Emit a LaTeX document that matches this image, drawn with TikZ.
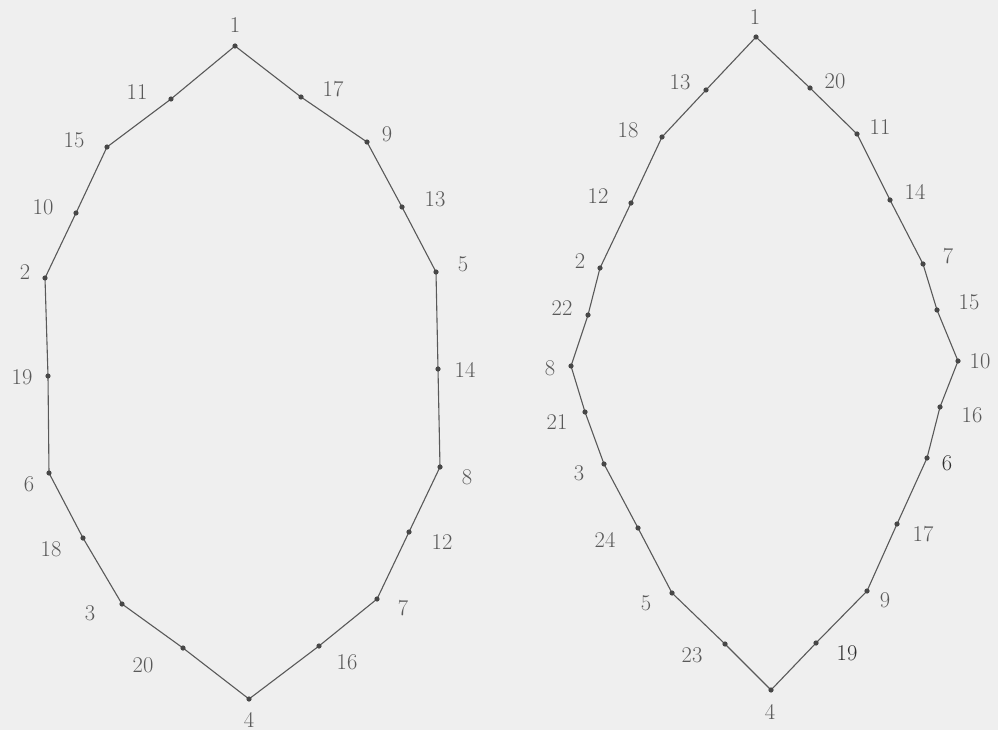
\documentclass[tikz,border=0pt]{standalone}
\begin{document}
\begin{tikzpicture}[x=1pt,y=-1pt,
  lab/.style={text=black!65, font=\fontsize{22.5}{26}\selectfont, inner sep=0pt},
  labdark/.style={lab, text=black!82},
  edge/.style={draw=black!65, line width=1.1pt, line join=round},
  dotc/.style={fill=black!72}]
\definecolor{bgc}{HTML}{EFEFEF}
\fill[bgc] (0,0) rectangle (998,730);
\useasboundingbox (0,0) rectangle (998,730);
% left figure
\foreach \n/\x/\y/\lx/\ly in {1/235/46/235/25, 11/171/99/137/92, 15/107/147/74/140, 10/76/213/43/207,
  2/45/278/25/272, 19/48/376/22/377, 6/49/473/29/484, 18/83/538/51/549, 3/122/604/90/613,
  20/183/648/143/665, 4/249/699/249/720, 16/319/646/347/662, 7/377/599/403/608,
  12/409/532/442/542, 8/440/467/467/477, 14/438/369/465/370, 5/436/272/463/264,
  13/402/207/435/199, 9/367/142/387/134, 17/301/97/333/89}
{\coordinate (A\n) at (\x,\y); \node[lab] (AL\n) at (\lx,\ly) {\n};}
\draw[edge] (A1) -- (A11) -- (A15) -- (A10) -- (A2) -- (A19) -- (A6) -- (A18) -- (A3) -- (A20)
  -- (A4) -- (A16) -- (A7) -- (A12) -- (A8) -- (A14) -- (A5) -- (A13) -- (A9) -- (A17) -- cycle;
\foreach \n in {1,...,20} \fill[dotc] (A\n) circle (2.6);
% right figure
\foreach \n/\x/\y/\lx/\ly in {1/756/37/755/17, 13/706/90/680/82, 18/662/137/628/130, 12/631/203/598/196,
  2/600/268/580/261, 22/588/315/562/308, 8/571/366/550/368, 21/585/412/557/422, 3/604/464/579/473,
  24/638/528/605/540, 5/672/593/646/603, 23/725/644/692/655, 4/771/690/770/712,
  9/867/591/885/600, 17/897/524/923/534,
  16/940/407/972/415, 10/958/361/980/361, 15/937/310/969/302, 7/923/264/948/256,
  14/890/200/915/192, 11/857/134/880/127, 20/810/88/835/81}
{\coordinate (B\n) at (\x,\y); \node[lab] (BL\n) at (\lx,\ly) {\n};}
\coordinate (B19) at (816,643); \node[labdark] (BL19) at (847,653) {19};
\coordinate (B6) at (927,458); \node[labdark] (BL6) at (947,463) {6};
\draw[edge] (B1) -- (B13) -- (B18) -- (B12) -- (B2) -- (B22) -- (B8) -- (B21) -- (B3) -- (B24)
  -- (B5) -- (B23) -- (B4) -- (B19) -- (B9) -- (B17) -- (B6) -- (B16) -- (B10) -- (B15) -- (B7)
  -- (B14) -- (B11) -- (B20) -- cycle;
\foreach \n in {1,...,24} \fill[dotc] (B\n) circle (2.6);
\end{tikzpicture}
\end{document}
